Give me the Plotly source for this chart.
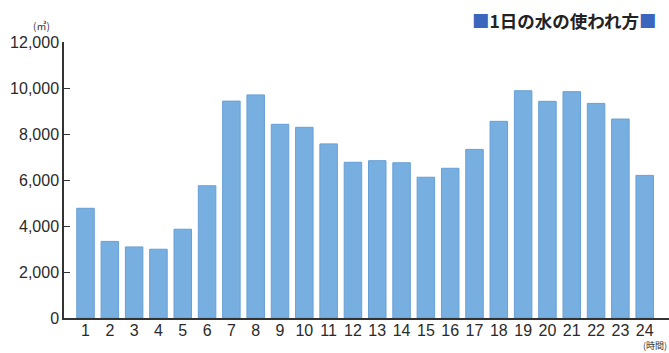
import plotly.graph_objects as go

hours = list(range(1, 25))
hour_labels = [str(h) for h in hours]
usage = [4770, 3330, 3090, 2990, 3860, 5750, 9430, 9700, 8420, 8290,
         7570, 6770, 6840, 6750, 6120, 6510, 7330, 8550, 9880, 9420,
         9840, 9330, 8650, 6200]
y_ticks = [0, 2000, 4000, 6000, 8000, 10000, 12000]
y_tick_labels = ["0", "2,000", "4,000", "6,000", "8,000", "10,000", "12,000"]
title_text = "1日の水の使われ方"
y_unit = "(㎥)"
x_unit = "(時間)"

font_family = "Liberation Sans, Arial, sans-serif"
jp_font = "Noto Sans CJK JP"

fig = go.Figure()
fig.add_trace(go.Bar(
    x=hours, y=usage,
    marker=dict(color="#78afe1", line=dict(color="#689fd6", width=1)),
))

fig.update_layout(
    width=669, height=353,
    margin=dict(l=64, r=0, t=42, b=35),
    paper_bgcolor="white", plot_bgcolor="white",
    showlegend=False,
    bargap=0.28,
    font=dict(family=font_family, color="#2a2a2a"),
)
fig.update_xaxes(
    range=[0.115, 25.0],
    tickvals=hours, ticktext=hour_labels,
    showline=True, linecolor="#333", linewidth=1.5,
    showgrid=False, zeroline=False, ticks="",
    ticklabelstandoff=-3,
    tickfont=dict(size=16, color="#2a2a2a"),
)
fig.update_yaxes(
    range=[0, 12000],
    tickvals=y_ticks, ticktext=y_tick_labels,
    showline=True, linecolor="#333", linewidth=1.5,
    showgrid=False, zeroline=False,
    ticks="inside", ticklen=6, tickcolor="#333",
    tickfont=dict(size=16, color="#2a2a2a"),
)

fig.add_annotation(
    xref="paper", yref="paper", x=1.0, xshift=-11, y=1.0, yshift=22,
    xanchor="right", yanchor="middle", showarrow=False,
    text="<span style='color:#3a66bd'>■</span><b>" + title_text + "</b><span style='color:#3a66bd'>■</span>",
    font=dict(family=jp_font, size=17.5, color="#222"),
)
fig.add_annotation(
    xref="paper", yref="paper", x=0, xshift=-12, y=1.0, yshift=17,
    xanchor="right", yanchor="middle", showarrow=False,
    text=y_unit, font=dict(family=jp_font, size=10, color="#333"),
)
fig.add_annotation(
    xref="paper", yref="paper", x=1.0, y=0, yshift=-27,
    xanchor="right", yanchor="middle", showarrow=False,
    text=x_unit, font=dict(family=jp_font, size=9, color="#333"),
)

fig.write_html("out.html")
